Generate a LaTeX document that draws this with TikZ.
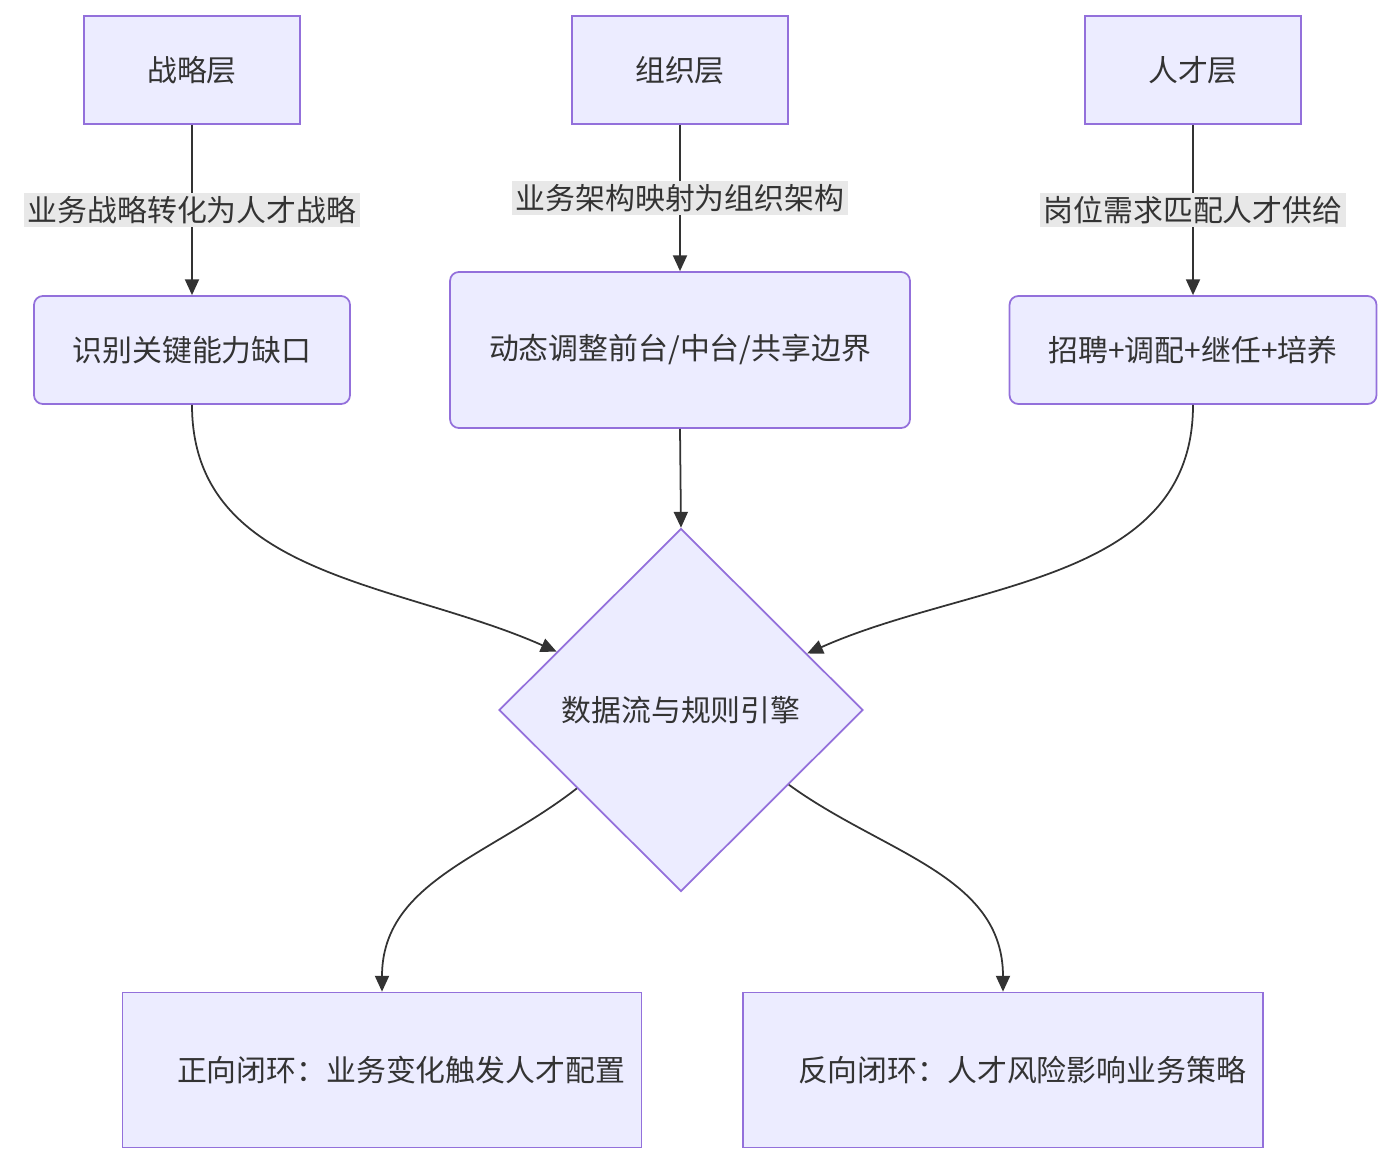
\documentclass[tikz,border=0pt]{standalone}
\usepackage{fontspec}
\setmainfont{Noto Sans CJK SC}
\usetikzlibrary{shapes.geometric, arrows.meta, calc, positioning}
\definecolor{boxfill}{HTML}{ECECFF}
\definecolor{boxline}{HTML}{9370DB}
\definecolor{ink}{HTML}{333333}
\definecolor{lblfill}{HTML}{E8E8E8}

\begin{document}
\begin{tikzpicture}[x=0.02cm, y=-0.02cm, font=\fontsize{17}{28}\selectfont, text=ink]
        \tikzstyle{layer} = [draw=boxline, fill=boxfill, line width=1pt, minimum width=4.32cm, minimum height=2.16cm];
        \tikzstyle{task} = [layer, rounded corners=5pt];
        \tikzstyle{lbl} = [fill=lblfill, inner sep=2pt, text=ink];
        \tikzstyle{flow} = [draw=ink, line width=1pt, -{Triangle[length=9pt, width=8pt]}];

        \useasboundingbox (0,0) rectangle (1392,1164);

        \node [layer] (S) at (192,70) {战略层};
        \node [layer] (O) at (680,70) {组织层};
        \node [layer] (T) at (1193,70) {人才层};

        \node [task, minimum width=6.32cm] (S1) at (192,350) {识别关键能力缺口};
        \node [task, minimum width=9.2cm, minimum height=3.12cm, text width=8cm, align=center] (O1) at (680,350) {动态调整前台/中台/共享边界};
        \node [task, minimum width=7.34cm] (T1) at (1193,350) {招聘+调配+继任+培养};

        \node [diamond, aspect=1, draw=boxline, fill=boxfill, line width=1pt, minimum width=7.28cm, minimum height=7.26cm, inner sep=0pt] (D) at (681,710) {数据流与规则引擎};

        \node [layer, minimum width=10.38cm, minimum height=3.1cm, text width=8.2cm, align=center] (F) at (382,1070) {正向闭环：业务变化触发人才配置};
        \node [layer, minimum width=10.4cm, minimum height=3.1cm, text width=8.2cm, align=center] (B) at (1003,1070) {反向闭环：人才风险影响业务策略};

        \coordinate (Din1) at ($(D.west)!0.32!(D.north)$);
        \coordinate (Din3) at ($(D.east)!0.31!(D.north)$);
        \coordinate (Dout1) at ($(D.west)!0.43!(D.south)$);
        \coordinate (Dout2) at ($(D.east)!0.41!(D.south)$);

        \draw [flow] (S) -- node [lbl] {业务战略转化为人才战略} (S1);
        \draw [flow] (O) -- node [lbl, pos=0.5] {业务架构映射为组织架构} (O1);
        \draw [flow] (T) -- node [lbl] {岗位需求匹配人才供给} (T1);

        \draw [flow] (S1.south) to [out=-90, in=156] (Din1);
        \draw [flow] (O1.south) -- (D.north);
        \draw [flow] (T1.south) to [out=-90, in=24] (Din3);

        \draw [flow] (Dout1) to [out=-142, in=90] (F.north);
        \draw [flow] (Dout2) to [out=-36, in=90] (B.north);
    \end{tikzpicture}
\end{document}
